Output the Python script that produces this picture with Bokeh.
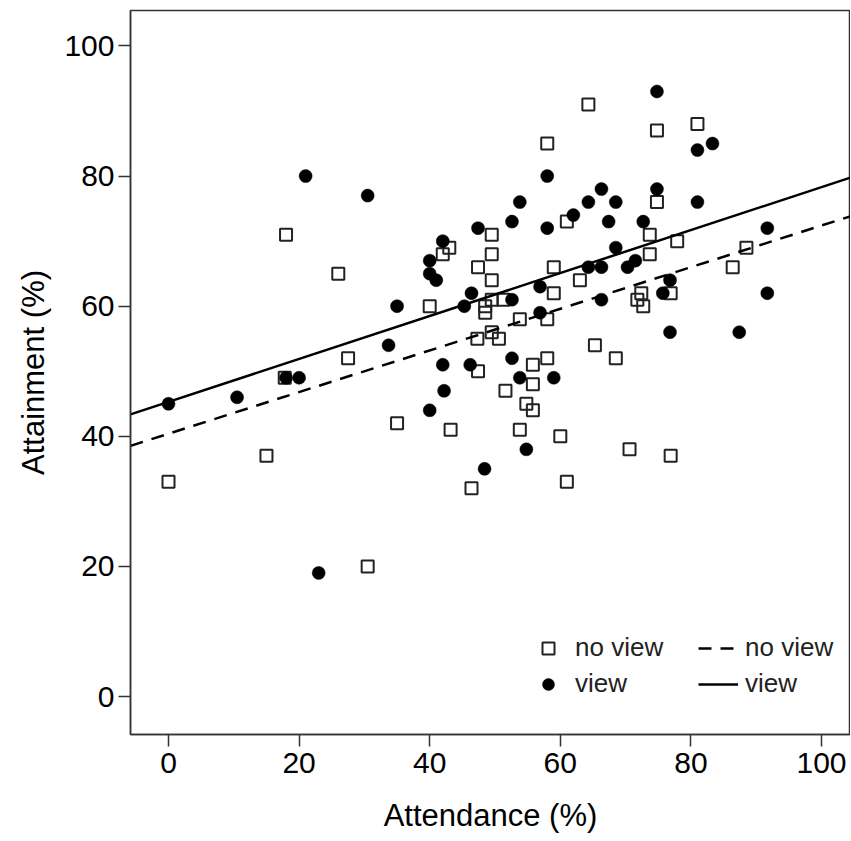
from bokeh.plotting import figure
from bokeh.models import Range1d, Legend, LegendItem, FixedTicker
from bokeh.embed import file_html
from bokeh.resources import INLINE

# ---- data ----
noview_attendance = [0, 15, 18, 26, 17.8, 27.5, 30.5, 35, 43, 42, 40, 49.5, 49.5, 47.4, 49.5,
                     49.5, 51.3, 48.5, 48.5, 47.3, 49.5, 50.6, 58, 61, 59, 63, 59, 53.8, 58,
                     65.3, 47.4, 55.8, 58, 55.8, 51.6, 54.8, 55.8, 43.2, 53.8, 60, 46.4, 61,
                     68.5, 70.6, 64.3, 74.8, 81, 74.8, 73.7, 77.9, 73.7, 88.5, 86.4, 76.9,
                     72.4, 71.8, 72.7, 76.9]
noview_attainment = [33, 37, 71, 65, 49, 52, 20, 42, 69, 68, 60, 71, 68, 66, 64,
                     61, 61, 60, 59, 55, 56, 55, 85, 73, 66, 64, 62, 58, 58,
                     54, 50, 51, 52, 48, 47, 45, 44, 41, 41, 40, 32, 33,
                     52, 38, 91, 87, 88, 76, 71, 70, 68, 69, 66, 62,
                     62, 61, 60, 37]

view_attendance = [0, 10.5, 20, 18, 21, 30.5, 23, 35, 33.7, 42, 40, 40, 41, 46.4, 45.3, 47.4,
                   52.6, 52.6, 53.8, 58, 58, 62, 64.3, 66.3, 68.5, 67.4, 68.5, 64.3, 66.3,
                   70.3, 71.5, 56.9, 56.9, 66.3, 42, 46.2, 52.6, 53.8, 59, 42.2, 40, 54.8,
                   48.4, 74.8, 81, 83.3, 74.8, 81, 72.7, 91.7, 76.8, 75.7, 91.7, 76.8, 87.4]
view_attainment = [45, 46, 49, 49, 80, 77, 19, 60, 54, 70, 67, 65, 64, 62, 60, 72,
                   61, 73, 76, 80, 72, 74, 76, 78, 76, 73, 69, 66, 66,
                   66, 67, 63, 59, 61, 51, 51, 52, 49, 49, 47, 44, 38,
                   35, 93, 84, 85, 78, 76, 73, 72, 64, 62, 62, 56, 56]

# linear fits (intercept, slope) as drawn in the reference
fit_noview = (40.4, 0.32)
fit_view = (45.3, 0.33)

x_ticks = [0, 20, 40, 60, 80, 100]
y_ticks = [0, 20, 40, 60, 80, 100]
group_labels = ["no view", "view"]

FONT = "Liberation Sans"

x_start, x_end = -5.82, 104.44
y_start, y_end = -5.83, 105.45

p = figure(width=850, height=835, output_backend="svg", toolbar_location=None,
           x_range=Range1d(x_start, x_end), y_range=Range1d(y_start, y_end),
           min_border_left=130, min_border_right=0, min_border_top=10, min_border_bottom=100)

p.xgrid.visible = False
p.ygrid.visible = False
p.outline_line_color = "#333333"
p.outline_line_width = 1.5
p.background_fill_color = "white"
p.border_fill_color = "white"

for ax, ticks in ((p.xaxis[0], x_ticks), (p.yaxis[0], y_ticks)):
    ax.ticker = FixedTicker(ticks=ticks)
    ax.minor_tick_line_color = None
    ax.major_tick_in = 0
    ax.major_tick_out = 12
    ax.major_tick_line_color = "#333333"
    ax.major_tick_line_width = 1.5
    ax.axis_line_color = "#333333"
    ax.axis_line_width = 1.5
    ax.major_label_text_font = FONT
    ax.major_label_text_font_size = "30px"
    ax.major_label_text_color = "black"
    ax.axis_label_text_font = FONT
    ax.axis_label_text_font_size = "31px"
    ax.axis_label_text_font_style = "normal"
    ax.axis_label_text_color = "black"

p.xaxis.axis_label = "Attendance (%)"
p.yaxis.axis_label = "Attainment (%)"
p.xaxis.major_label_standoff = 6
p.xaxis.axis_label_standoff = 22
p.yaxis.major_label_standoff = 4
p.yaxis.axis_label_standoff = 10

sq = p.scatter(noview_attendance, noview_attainment, marker="square", size=12,
               fill_color=None, line_color="#222222", line_width=2)
ci = p.scatter(view_attendance, view_attainment, marker="circle", size=13,
               fill_color="black", line_color="black", line_width=0.5)

xs = [x_start, x_end]
l_nv = p.line(xs, [fit_noview[0] + fit_noview[1] * x for x in xs],
              line_color="black", line_width=2.5, line_dash="13 9")
l_v = p.line(xs, [fit_view[0] + fit_view[1] * x for x in xs],
             line_color="black", line_width=2.5)

legend = Legend(items=[
    LegendItem(label=group_labels[0], renderers=[sq]),
    LegendItem(label=group_labels[1], renderers=[ci]),
    LegendItem(label=group_labels[0], renderers=[l_nv]),
    LegendItem(label=group_labels[1], renderers=[l_v]),
], nrows=2, location=(398, 35), orientation="vertical")
legend.label_text_font = FONT
legend.label_text_font_size = "26px"
legend.label_text_color = "#222222"
legend.glyph_width = 40
legend.glyph_height = 30
legend.label_standoff = 7
legend.label_width = 118
legend.spacing = 5
legend.padding = 0
legend.margin = 0
legend.border_line_color = None
legend.background_fill_alpha = 0
p.add_layout(legend, "center")

open("out.html", "w").write(file_html(p, INLINE))
